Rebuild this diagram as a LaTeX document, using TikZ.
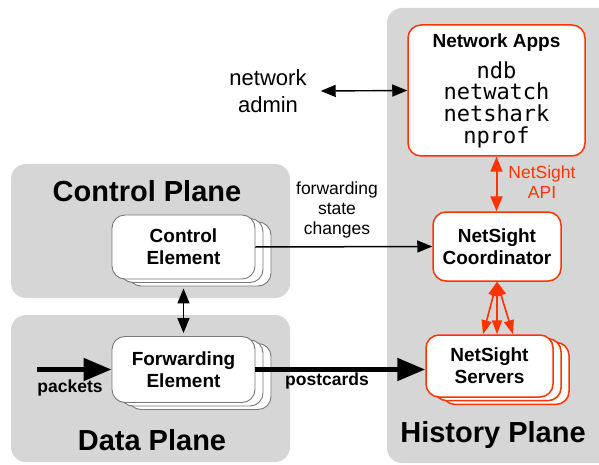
\documentclass[tikz,border=0pt]{standalone}
\usepackage{fontspec}
\setmainfont{Liberation Sans}
\newfontfamily\appmono{DejaVu Sans Mono}
\usetikzlibrary{arrows.meta,calc}
\definecolor{panelgray}{RGB}{214,214,214}
\definecolor{nsred}{RGB}{255,51,0}
\definecolor{stackgray}{RGB}{120,120,120}
\begin{document}
\begin{tikzpicture}[x=1pt,y=-1pt,
  panel/.style={fill=panelgray,draw=none,rounded corners=15pt},
  planelabel/.style={font=\fontsize{29}{32}\selectfont\bfseries,inner sep=0pt},
  boxtext/.style={font=\fontsize{19}{22}\selectfont\bfseries,align=center,inner sep=0pt},
  plaintext/.style={font=\fontsize{17.5}{20}\selectfont,align=center,inner sep=0pt},
  elem/.style={draw=stackgray,line width=0.9pt,fill=white,rounded corners=13pt,
    minimum width=143pt,minimum height=64pt,inner sep=0pt},
  redbox/.style={draw=nsred,line width=1.5pt,fill=white,rounded corners=13pt,inner sep=0pt},
  thinarrow/.style={line width=1.4pt,{Triangle[length=15pt,width=12pt]}-{Triangle[length=15pt,width=12pt]}},
  onearrow/.style={line width=1.5pt,-{Triangle[length=15pt,width=12pt]}},
  fatarrow/.style={line width=5pt,-{Triangle[length=28pt,width=22pt]}},
  redarrow/.style={draw=nsred,line width=2pt,{Triangle[length=15pt,width=12pt]}-{Triangle[length=15pt,width=12pt]}},
  fanarrow/.style={draw=nsred,line width=1.6pt,{Triangle[length=14pt,width=10pt]}-{Triangle[length=14pt,width=10pt]}}
]
\useasboundingbox (0,0) rectangle (599,465);

% planes
\fill[panel] (11,164) rectangle (290,298);
\fill[panel] (11,315) rectangle (290,462);
\fill[panel] (387,8) rectangle (630,463);

\node[planelabel] (cplane) at (147,191) {Control Plane};
\node[planelabel] (dplane) at (152,440) {Data Plane};
\node[planelabel] (hplane) at (493,435) {History Plane};

% control element stack
\node[elem] (cb2) at (199.5,254) {};
\node[elem] (cb1) at (191.5,250.5) {};
\node[elem] (ctrl) at (183.5,247) {};
\node[boxtext] (ctrltxt) at (ctrl.center) {Control\\Element};

% forwarding element stack
\node[elem,minimum height=66pt] (fb2) at (199.5,376.5) {};
\node[elem,minimum height=66pt] (fb1) at (191.5,373) {};
\node[elem,minimum height=66pt] (fwd) at (183.5,369.5) {};
\node[boxtext] (fwdtxt) at (fwd.center) {Forwarding\\Element};

% network apps
\node[redbox,minimum width=177pt,minimum height=131pt] (apps) at (496.5,90.5) {};
\node[font=\fontsize{19}{22}\selectfont\bfseries,inner sep=0pt] (appstitle) at (496.5,43) {Network Apps};
\node[font=\appmono\fontsize{22}{21.7}\selectfont,align=center,inner sep=0pt] (applist) at (496.5,104.5) {ndb\\netwatch\\netshark\\nprof};

% coordinator
\node[redbox,minimum width=128pt,minimum height=69pt] (coord) at (497,246.5) {};
\node[boxtext] (coordtxt) at (coord.center) {NetSight\\Coordinator};

% servers stack
\node[redbox,minimum width=127pt,minimum height=62pt] (sb2) at (505.5,373.4) {};
\node[redbox,minimum width=127pt,minimum height=62pt] (sb1) at (497.5,369.7) {};
\node[redbox,minimum width=127pt,minimum height=62pt] (srv) at (489.5,366) {};
\node[boxtext] (srvtxt) at (srv.center) {NetSight\\Servers};

% texts
\node[font=\fontsize{22}{27}\selectfont,align=center,inner sep=0pt] (admin) at (268,91) {network\\admin};
\node[plaintext] (fsc) at (337,210) {forwarding\\state\\changes};
\node[plaintext,text=nsred] (api) at (542,182) {NetSight\\API};
\node[font=\fontsize{17.5}{20}\selectfont\bfseries,inner sep=0pt] (pkts) at (70,388) {packets};
\node[font=\fontsize{17.5}{20}\selectfont\bfseries,inner sep=0pt] (pcards) at (327,381) {postcards};

% connectors
\draw[thinarrow] ($(admin.east)+(14,0)$) -- (apps.west);
\draw[onearrow] (ctrl.east) -- (coord.west);
\draw[thinarrow] ($(ctrl.south)+(0,9)$) -- ($(fwd.north)+(0,-3)$);
\coordinate (pin) at (37,369.5);
\draw[fatarrow] (pin) -- (fwd.west);
\draw[fatarrow] (fwd.east) -- (fwd.east -| srv.west);
\draw[redarrow] (apps.south) -- (apps.south |- coord.north);
\draw[fanarrow] (coord.south) -- ($(coord.south |- srv.north)+(-14,0)$);
\draw[fanarrow] (coord.south) -- (coord.south |- srv.north);
\draw[fanarrow] (coord.south) -- ($(coord.south |- srv.north)+(16,0)$);
\end{tikzpicture}
\end{document}
